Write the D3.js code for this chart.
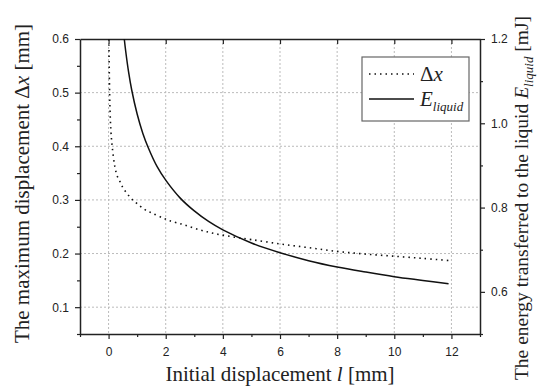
<!DOCTYPE html>
<html>
<head>
<meta charset="utf-8">
<script src="https://cdn.jsdelivr.net/npm/d3@7"></script>
<style>
  body { margin: 0; background: #fff; }
  .tick text { font-family: "Liberation Sans", Arial, sans-serif; font-size: 12px; fill: #222; }
  .lbl { font-family: "Liberation Serif", "Times New Roman", serif; font-size: 21px; fill: #222; }
</style>
</head>
<body>
<svg id="chart" width="539" height="392"></svg>
<script>
// maximum displacement Δx [mm] vs initial displacement l [mm]
const dxL = [0.01, 0.03, 0.05, 0.08, 0.13, 0.22, 0.3, 0.4, 0.5, 0.63, 0.84, 1.0, 1.27, 1.5, 1.91, 2.15, 2.62, 3.2, 3.73, 4.36, 5, 6, 7, 8, 9, 10, 11, 11.9];
const dxVal = [0.6, 0.52, 0.47, 0.43, 0.398, 0.362, 0.345, 0.334, 0.323, 0.313, 0.30, 0.293, 0.282, 0.276, 0.266, 0.261, 0.254, 0.244, 0.237, 0.231, 0.226, 0.218, 0.211, 0.204, 0.199, 0.195, 0.191, 0.187];

// energy transferred to the liquid [mJ]
const eL = [0.55, 0.6, 0.7, 0.81, 1.0, 1.2, 1.39, 1.7, 2.0, 2.5, 3.0, 3.5, 4.0, 5, 6, 7, 8, 9, 10, 11, 11.9];
const eVal = [1.2, 1.171, 1.122, 1.079, 1.022, 0.976, 0.942, 0.897, 0.865, 0.823, 0.792, 0.767, 0.747, 0.716, 0.693, 0.674, 0.659, 0.647, 0.636, 0.627, 0.619];

const xTicks = [0, 2, 4, 6, 8, 10, 12];
const xMinor = [-1, 1, 3, 5, 7, 9, 11, 13];
const yLeftTicks = [0.1, 0.2, 0.3, 0.4, 0.5, 0.6];
const yLeftMinor = [0.05, 0.15, 0.25, 0.35, 0.45, 0.55];
const yRightTicks = [0.6, 0.8, 1.0, 1.2];
const yRightMinor = [0.5, 0.7, 0.9, 1.1];

const margin = { top: 39, right: 59, bottom: 58, left: 80 };
const width = 539 - margin.left - margin.right;
const height = 392 - margin.top - margin.bottom;

const svg = d3.select("#chart");
const g = svg.append("g").attr("transform", `translate(${margin.left},${margin.top})`);

const x = d3.scaleLinear().domain([-1, 13]).range([0, width]);
const yL = d3.scaleLinear().domain([0.05, 0.6]).range([height, 0]);
const yR = d3.scaleLinear().domain([0.5, 1.2]).range([height, 0]);

// grid
const grid = g.append("g").attr("stroke", "#bbb").attr("stroke-dasharray", "2,2").attr("stroke-width", 1);
grid.selectAll(".gx").data(xTicks).enter().append("line")
  .attr("x1", d => x(d)).attr("x2", d => x(d)).attr("y1", 0).attr("y2", height);
grid.selectAll(".gy").data(yLeftTicks.filter(d => d < 0.6)).enter().append("line")
  .attr("x1", 0).attr("x2", width).attr("y1", d => yL(d)).attr("y2", d => yL(d));

function styleAxis(sel) {
  sel.select(".domain").attr("stroke", "#222").attr("stroke-width", 1.5);
  sel.selectAll(".tick line").attr("stroke", "#222").attr("stroke-width", 1.2);
}

// bottom axis
const xAxis = g.append("g").attr("transform", `translate(0,${height})`)
  .call(d3.axisBottom(x).tickValues(xTicks).tickFormat(d3.format("d")).tickSizeInner(5).tickSizeOuter(0).tickPadding(8));
styleAxis(xAxis);
g.append("g").attr("transform", `translate(0,${height})`)
  .call(d3.axisBottom(x).tickValues(xMinor).tickFormat("").tickSizeInner(3).tickSizeOuter(0))
  .call(s => { s.select(".domain").remove(); styleAxis(s); });

// top axis, ticks inward
const xTop = g.append("g")
  .call(d3.axisTop(x).tickValues(xTicks).tickFormat("").tickSizeInner(-5).tickSizeOuter(0));
styleAxis(xTop);

// left axis
const yAxisL = g.append("g")
  .call(d3.axisLeft(yL).tickValues(yLeftTicks).tickFormat(d3.format(".1f")).tickSizeInner(5).tickSizeOuter(0).tickPadding(6));
styleAxis(yAxisL);
g.append("g")
  .call(d3.axisLeft(yL).tickValues(yLeftMinor).tickFormat("").tickSizeInner(3).tickSizeOuter(0))
  .call(s => { s.select(".domain").remove(); styleAxis(s); });

// right axis
const yAxisR = g.append("g").attr("transform", `translate(${width},0)`)
  .call(d3.axisRight(yR).tickValues(yRightTicks).tickFormat(d3.format(".1f")).tickSizeInner(5).tickSizeOuter(0).tickPadding(6));
styleAxis(yAxisR);
g.append("g").attr("transform", `translate(${width},0)`)
  .call(d3.axisRight(yR).tickValues(yRightMinor).tickFormat("").tickSizeInner(3).tickSizeOuter(0))
  .call(s => { s.select(".domain").remove(); styleAxis(s); });

// series
const dxData = dxL.map((d, i) => [d, dxVal[i]]);
const eData = eL.map((d, i) => [d, eVal[i]]);

g.append("path").datum(dxData)
  .attr("fill", "none").attr("stroke", "#111").attr("stroke-width", 1.6)
  .attr("stroke-dasharray", "1.5,4")
  .attr("d", d3.line().x(d => x(d[0])).y(d => yL(d[1])).curve(d3.curveCatmullRom.alpha(0.5)));

g.append("path").datum(eData)
  .attr("fill", "none").attr("stroke", "#111").attr("stroke-width", 1.5)
  .attr("d", d3.line().x(d => x(d[0])).y(d => yR(d[1])).curve(d3.curveCatmullRom.alpha(0.5)));

// legend
const lg = svg.append("g").attr("transform", "translate(362,57)");
lg.append("rect").attr("width", 107).attr("height", 64)
  .attr("fill", "#fff").attr("stroke", "#666").attr("stroke-width", 1.2);
lg.append("line").attr("x1", 7).attr("x2", 52).attr("y1", 17).attr("y2", 17)
  .attr("stroke", "#111").attr("stroke-width", 1.6).attr("stroke-dasharray", "1.5,4");
lg.append("text").attr("class", "lbl").attr("x", 58).attr("y", 24)
  .html('Δ<tspan font-style="italic">x</tspan>');
lg.append("line").attr("x1", 7).attr("x2", 52).attr("y1", 42).attr("y2", 42)
  .attr("stroke", "#111").attr("stroke-width", 1.5);
lg.append("text").attr("class", "lbl").attr("x", 58).attr("y", 49)
  .html('<tspan font-style="italic">E</tspan><tspan font-style="italic" font-size="13" dy="5">liquid</tspan>');

// axis titles
svg.append("text").attr("class", "lbl").attr("text-anchor", "middle")
  .attr("transform", `translate(${margin.left + x(6)},381)`)
  .html('Initial displacement <tspan font-style="italic">l</tspan> [mm]');

svg.append("text").attr("class", "lbl").attr("text-anchor", "middle")
  .attr("transform", `translate(29,${margin.top + height / 2 - 3}) rotate(-90)`)
  .html('The maximum displacement Δ<tspan font-style="italic">x</tspan> [mm]');

svg.append("text").attr("class", "lbl").attr("text-anchor", "middle")
  .style("font-size", "19.5px")
  .attr("transform", `translate(528,198) rotate(-90)`)
  .html('The energy transferred to the liquid <tspan font-style="italic">E</tspan><tspan font-style="italic" font-size="13" dy="5">liquid</tspan><tspan dy="-5"> [mJ]</tspan>');
</script>
</body>
</html>
